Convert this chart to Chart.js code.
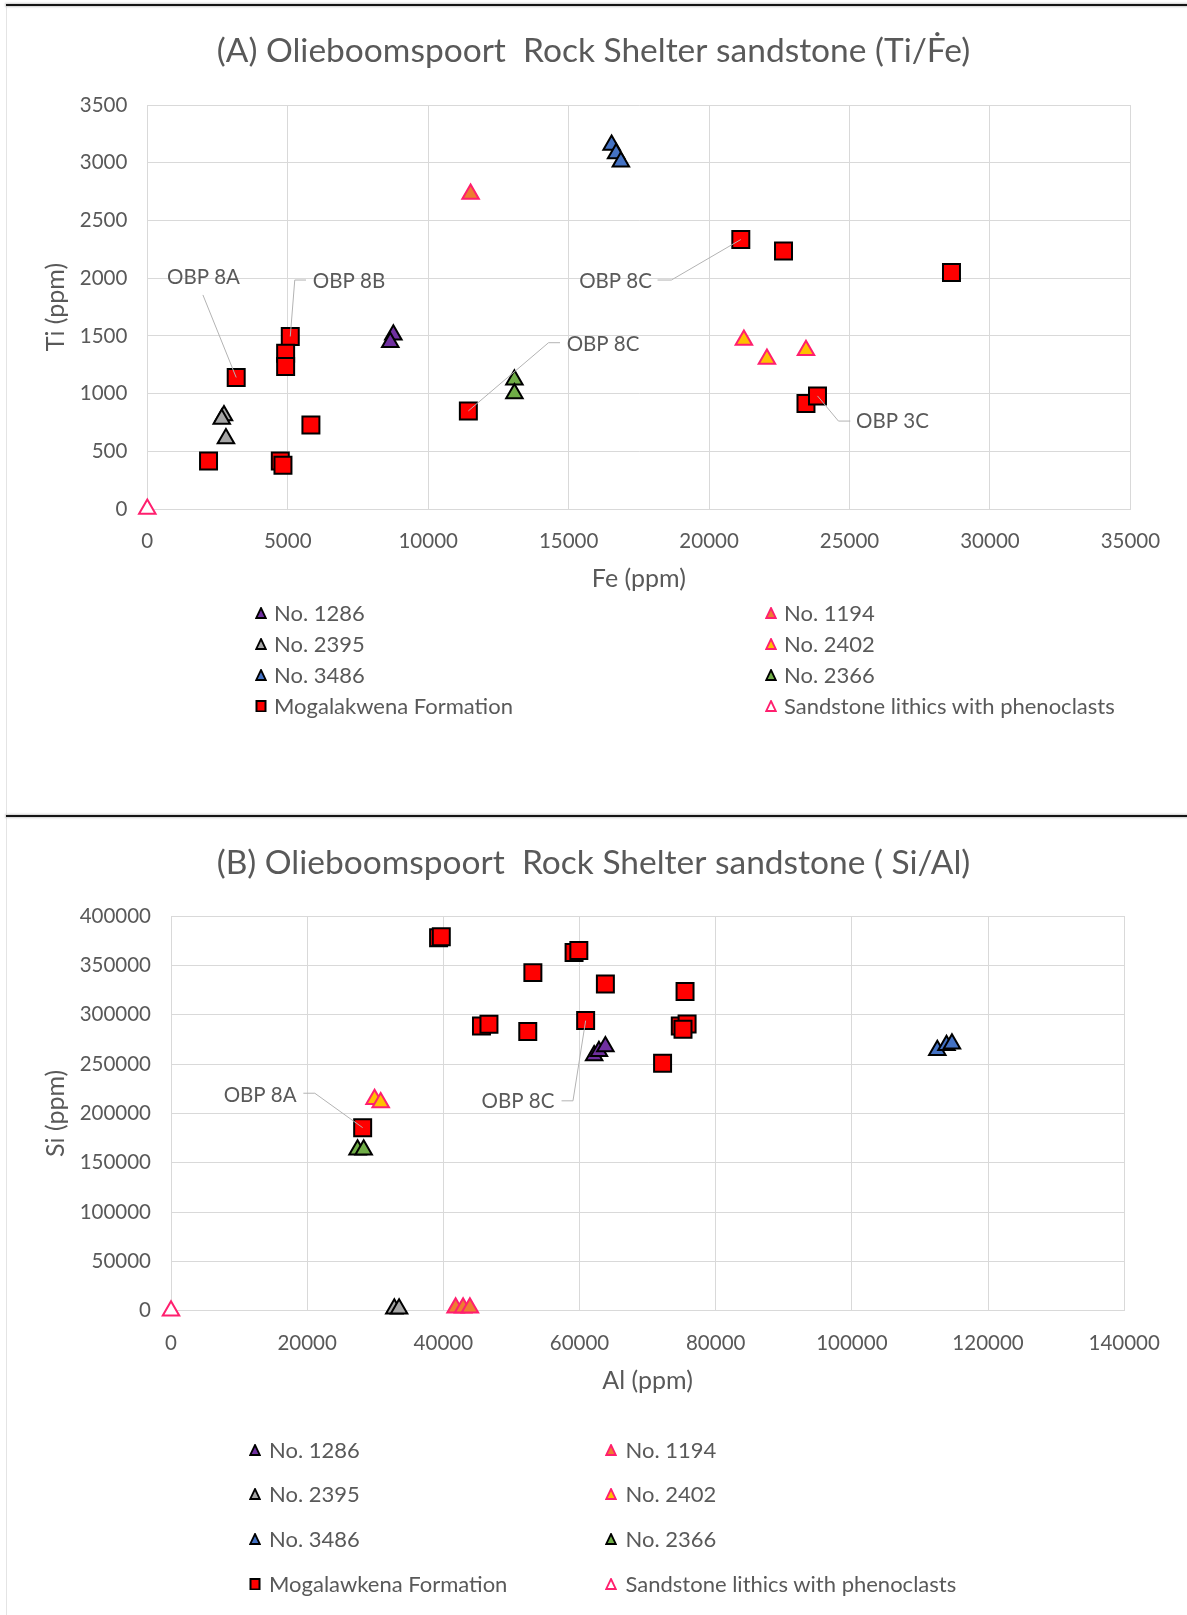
<!DOCTYPE html>
<html>
<head>
<meta charset="utf-8">
<script src="https://cdn.jsdelivr.net/npm/chart.js@4.4.0/dist/chart.umd.min.js"></script>
<style>
  body { margin: 0; background: #fff; width: 1187px; height: 1615px; position: relative; overflow: hidden; font-family: Lato, sans-serif; }
  canvas { position: absolute; left: 0; }
  #chartA { top: 0; }
  #chartB { top: 818px; }
  .rule { position: absolute; left: 6px; right: 0; height: 2px; background: #151515; box-shadow: 0 0 2px 1px #cfcfcf; }
  .side { position: absolute; left: 6px; top: 5px; bottom: 0; width: 1px; background: #e4e4e4; }
  .lg-mark { position: absolute; width: 12px; height: 12px; }
  .lg-text { position: absolute; font-size: 22px; color: #595959; white-space: nowrap; line-height: 26px; }
</style>
</head>
<body>
<div class="side"></div>
<div class="rule" style="top:4px"></div>
<div class="rule" style="top:815px"></div>
<canvas id="chartA" width="1187" height="815"></canvas>
<canvas id="chartB" width="1187" height="797"></canvas>
<div id="legends"></div>
<script>
// ---- chart A : Fe vs Ti ----
const feTicks = [0, 5000, 10000, 15000, 20000, 25000, 30000, 35000];
const tiTicks = [0, 500, 1000, 1500, 2000, 2500, 3000, 3500];

const no1286Fe = [8760, 8650];
const no1286Ti = [1510, 1445];
const no1194Fe = [11510];
const no1194Ti = [2730];
const no2395Fe = [2730, 2650, 2800];
const no2395Ti = [810, 780, 610];
const no2402Fe = [21240, 22060, 23450];
const no2402Ti = [1465, 1300, 1375];
const no3486Fe = [16530, 16690, 16860];
const no3486Ti = [3155, 3080, 3010];
const no2366Fe = [13070, 13070];
const no2366Ti = [1120, 1000];
const mogaFe = [3165, 5090, 4925, 4925, 5825, 2180, 4735, 4830, 11430, 21130, 22650, 28630, 23450, 23860];
const mogaTi = [1140, 1495, 1350, 1235, 728, 415, 415, 380, 850, 2335, 2235, 2050, 915, 980];
const sandFe = [0];
const sandTi = [0];

// ---- chart B : Al vs Si ----
const alTicks = [0, 20000, 40000, 60000, 80000, 100000, 120000, 140000];
const siTicks = [0, 50000, 100000, 150000, 200000, 250000, 300000, 350000, 400000];

const no1286Al = [62150, 62850, 63800];
const no1286Si = [258600, 263000, 267700];
const no1194Al = [41800, 42900, 43900];
const no1194Si = [3000, 3000, 3000];
const no2395Al = [32800, 33500];
const no2395Si = [2000, 2000];
const no2402Al = [29900, 30800];
const no2402Si = [214300, 211000];
const no3486Al = [112550, 113900, 114700];
const no3486Si = [264000, 269000, 270500];
const no2366Al = [27400, 28300];
const no2366Si = [163000, 163000];
const mogaAl = [39300, 39700, 53150, 59200, 59900, 63800, 60900, 45600, 46700, 52400, 28150, 75500, 74800, 75800, 75200, 72200];
const mogaSi = [378000, 379000, 342600, 363000, 365000, 331000, 294000, 288500, 290300, 283000, 185500, 323400, 288600, 290600, 285200, 250800];
const sandAl = [0];
const sandSi = [0];

const namesA = ['No. 1286', 'No. 1194', 'No. 2395', 'No. 2402', 'No. 3486', 'No. 2366', 'Mogalakwena Formation', 'Sandstone lithics with phenoclasts'];
const namesB = ['No. 1286', 'No. 1194', 'No. 2395', 'No. 2402', 'No. 3486', 'No. 2366', 'Mogalawkena Formation', 'Sandstone lithics with phenoclasts'];

// marker look per series (same order as the names)
const looks = [
    { shape: 'triangle', fill: '#7030a0', line: '#000000' },
    { shape: 'triangle', fill: '#ed7d31', line: '#ff1f6e' },
    { shape: 'triangle', fill: '#a5a5a5', line: '#000000' },
    { shape: 'triangle', fill: '#ffc000', line: '#ff1f6e' },
    { shape: 'triangle', fill: '#4472c4', line: '#000000' },
    { shape: 'triangle', fill: '#70ad47', line: '#000000' },
    { shape: 'rect', fill: '#ff0000', line: '#000000' },
    { shape: 'triangle', fill: '#ffffff', line: '#ff1f6e' }
];

const notesA = [
    { text: 'OBP 8A', tx: 2000, ty: 2005, path: [[1980, 1855], [3165, 1140]] },
    { text: 'OBP 8B', tx: 7180, ty: 1975, path: [[5650, 1984], [5250, 1984], [5090, 1495]] },
    { text: 'OBP 8C', tx: 16670, ty: 1975, path: [[18165, 1984], [18657, 1984], [21130, 2335]] },
    { text: 'OBP 8C', tx: 16225, ty: 1430, path: [[14693, 1441], [14284, 1441], [11430, 850]] },
    { text: 'OBP 3C', tx: 26530, ty: 757, path: [[25028, 762], [24606, 762], [23860, 980]] }
];
const notesB = [
    { text: 'OBP 8A', tx: 13090, ty: 218700, path: [[19440, 220400], [21120, 220400], [28150, 185500]] },
    { text: 'OBP 8C', tx: 50960, ty: 212000, path: [[57360, 212700], [59040, 212700], [60900, 294000]] }
];

const grey = '#595959';
const font = 'Lato';

function pts(xs, ys) {
    return xs.map((x, i) => ({ x: x, y: ys[i] }));
}

function makeSets(names, xs, ys) {
    return names.map((name, i) => ({
        label: name,
        data: pts(xs[i], ys[i]),
        pointStyle: looks[i].shape,
        pointRadius: looks[i].shape === 'rect' ? 12 : 9.5,
        pointHoverRadius: looks[i].shape === 'rect' ? 12 : 9.5,
        backgroundColor: looks[i].fill,
        borderColor: looks[i].line,
        borderWidth: 2,
        clip: false,
        order: names.length - i
    }));
}

// labels with leader lines, anchored in data units
const notePlugin = {
    id: 'notes',
    afterDatasetsDraw(chart, args, opts) {
        const ctx = chart.ctx;
        const sx = chart.scales.x, sy = chart.scales.y;
        ctx.save();
        opts.items.forEach(n => {
            ctx.strokeStyle = '#b3b3b3';
            ctx.lineWidth = 1;
            ctx.beginPath();
            n.path.forEach(([px, py], i) => {
                const X = sx.getPixelForValue(px), Y = sy.getPixelForValue(py);
                if (i) ctx.lineTo(X, Y); else ctx.moveTo(X, Y);
            });
            ctx.stroke();
            ctx.fillStyle = grey;
            ctx.font = '20.5px ' + font;
            ctx.textAlign = 'center';
            ctx.textBaseline = 'middle';
            ctx.fillText(n.text, sx.getPixelForValue(n.tx), sy.getPixelForValue(n.ty));
        });
        ctx.restore();
    }
};

function makeChart(id, cfg) {
    return new Chart(document.getElementById(id), {
        type: 'scatter',
        data: { datasets: makeSets(cfg.names, cfg.xs, cfg.ys) },
        options: {
            responsive: false,
            animation: false,
            devicePixelRatio: 1,
            // equal side padding keeps the title centred on the whole figure
            layout: { padding: { left: cfg.side, right: cfg.side, top: 0, bottom: cfg.padBottom } },
            plugins: {
                legend: { display: false },
                tooltip: { enabled: false },
                title: {
                    display: true,
                    text: cfg.title,
                    color: grey,
                    font: { family: font, size: 33.5, weight: 'normal' },
                    padding: { top: cfg.titleTop, bottom: cfg.titleBottom }
                },
                notes: { items: cfg.notes }
            },
            scales: {
                x: {
                    type: 'linear',
                    min: cfg.xTicks[0],
                    max: cfg.xTicks[cfg.xTicks.length - 1],
                    afterBuildTicks: s => { s.ticks = cfg.xTicks.map(v => ({ value: v })); },
                    afterFit: s => { s.height = 90; },
                    grid: { color: '#d9d9d9', drawTicks: false },
                    border: { color: '#d9d9d9' },
                    ticks: { color: grey, font: { family: font, size: 20.5 }, padding: 20, maxRotation: 0, callback: v => String(v) },
                    title: { display: true, text: cfg.xTitle, color: grey, font: { family: font, size: 25 }, padding: { top: 0, bottom: 5 } }
                },
                y: {
                    type: 'linear',
                    min: cfg.yTicks[0],
                    max: cfg.yTicks[cfg.yTicks.length - 1],
                    afterBuildTicks: s => { s.ticks = cfg.yTicks.map(v => ({ value: v })); },
                    afterFit: s => { s.width = cfg.yWidth; },
                    grid: { color: '#d9d9d9', drawTicks: false },
                    border: { color: '#d9d9d9' },
                    ticks: { color: grey, font: { family: font, size: 20.5 }, padding: 20, callback: v => String(v) },
                    title: { display: true, text: cfg.yTitle, color: grey, font: { family: font, size: 25 }, padding: { top: cfg.yTitleTop, bottom: 0 } }
                }
            }
        },
        plugins: [notePlugin]
    });
}

makeChart('chartA', {
    names: namesA,
    xs: [no1286Fe, no1194Fe, no2395Fe, no2402Fe, no3486Fe, no2366Fe, mogaFe, sandFe],
    ys: [no1286Ti, no1194Ti, no2395Ti, no2402Ti, no3486Ti, no2366Ti, mogaTi, sandTi],
    xTicks: feTicks, yTicks: tiTicks,
    title: '(A) Olieboomspoort  Rock Shelter sandstone (Ti/Ḟe)',
    xTitle: 'Fe (ppm)', yTitle: 'Ti (ppm)',
    titleTop: 31.4, titleBottom: 33.5,
    side: 56.6, yWidth: 90.7, yTitleTop: -16, padBottom: 216,
    notes: notesA
});

makeChart('chartB', {
    names: namesB,
    xs: [no1286Al, no1194Al, no2395Al, no2402Al, no3486Al, no2366Al, mogaAl, sandAl],
    ys: [no1286Si, no1194Si, no2395Si, no2402Si, no3486Si, no2366Si, mogaSi, sandSi],
    xTicks: alTicks, yTicks: siTicks,
    title: '(B) Olieboomspoort  Rock Shelter sandstone ( Si/Al)',
    xTitle: 'Al (ppm)', yTitle: 'Si (ppm)',
    titleTop: 25.4, titleBottom: 32.4,
    side: 62.8, yWidth: 108.2, yTitleTop: -22.2, padBottom: 214.3,
    notes: notesB
});

// two-column legends under each chart
function markerSvg(look) {
    if (look.shape === 'rect') {
        return '<svg class="lg-mark" viewBox="0 0 12 12"><rect x="1.5" y="1" width="9" height="10.5" fill="' + look.fill +
            '" stroke="' + look.line + '" stroke-width="2"/></svg>';
    }
    return '<svg class="lg-mark" viewBox="0 0 12 12"><polygon points="6,1 10.8,11 1.2,11" fill="' + look.fill +
        '" stroke="' + look.line + '" stroke-width="1.8" stroke-linejoin="miter"/></svg>';
}

function addLegend(names, rowY, markX, textX) {
    const box = document.getElementById('legends');
    names.forEach((name, i) => {
        const col = i % 2, row = Math.floor(i / 2);
        const m = document.createElement('div');
        m.innerHTML = markerSvg(looks[i]);
        const svg = m.firstChild;
        svg.style.left = (markX[col] - 6) + 'px';
        svg.style.top = (rowY[row] - 6) + 'px';
        box.appendChild(svg);
        const t = document.createElement('div');
        t.className = 'lg-text';
        t.textContent = name;
        t.style.left = textX[col] + 'px';
        t.style.top = (rowY[row] - 13) + 'px';
        box.appendChild(t);
    });
}

addLegend(namesA, [613, 644, 675, 706], [260.7, 770.7], [274, 784]);
addLegend(namesB, [1450, 1494, 1539, 1584], [254.5, 611], [269, 625.5]);
</script>
</body>
</html>
